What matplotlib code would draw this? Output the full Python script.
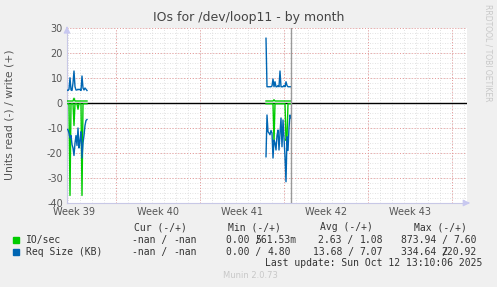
import numpy as np
import matplotlib.pyplot as plt

# time in hours since Mon 2025-09-22 00:00 (start of week 39), 2h resolution
t_a = [70, 72, 74, 76, 78, 80, 82, 84, 86, 88, 90, 92, 94, 96, 98, 100, 102, 104, 106, 108, 110]
t_b = [468, 470, 472, 474, 476, 478, 480, 482, 484, 486, 488, 490, 492,
       494, 496, 498, 500, 502, 504, 506, 508, 510, 512, 514, 516, 518]

# IO/sec (read drawn below zero, write above)
io_read_a = [0.3, 0.3, 0.3, 37, 0.3, 0.3, 0.3, 9, 0.3, 0.3, 0.3, 2.5, 0.3, 0.3, 0.3, 37, 0.3, 0.3, 0.3, 0.3, 0.3]
io_write_a = [0.8, 0.8, 0.8, 0.8, 0.8, 0.8, 0.8, 1.9, 0.8, 0.8, 0.8, 0.8, 0.8, 0.8, 0.8, 0.8, 0.8, 0.8, 0.8, 0.8, 0.8]
io_read_b = [0.3, 0.3, 0.3, 0.3, 0.3, 0.3, 0.3, 0.3, 15.5, 0.3, 0.3, 0.3, 0.3,
             0.3, 0.3, 0.3, 0.3, 0.3, 0.3, 0.3, 15, 14, 0.3, 0.3, 0.3, 0.3]
io_write_b = [0.8, 0.8, 0.8, 0.8, 0.8, 0.8, 0.8, 0.8, 1.3, 0.8, 0.8, 0.8, 0.8,
              0.8, 0.8, 0.8, 0.8, 0.8, 0.8, 0.8, 0.8, 0.8, 0.8, 0.8, 0.8, 0.8]

# Req Size (KB)
rs_read_a = [10.5, 10.7, 12, 14, 13, 16.6, 18, 21, 16, 13, 17, 10, 18, 15, 11.5, 22, 16, 13, 9, 7, 6.6]
rs_write_a = [5.2, 5.0, 5.5, 10.1, 5.2, 5.0, 8, 12.8, 6.5, 5.2, 5.2, 5.5, 5.3, 5.5, 5.0, 10.8, 6, 5.2, 6.0, 5.5, 5.0]
rs_read_b = [21.5, 4.8, 11.5, 12, 12.7, 11, 12, 22, 14.8, 16, 18.8, 13, 10.8,
             18.8, 12, 6, 17.5, 6.8, 14, 21.5, 31.5, 13.5, 19, 10, 4.8, 6]
rs_write_b = [25.9, 6.5, 6.5, 6.5, 6.5, 6.5, 6.8, 9.6, 6.5, 8.5, 6.5, 6.5, 7,
              6.5, 12.8, 6.5, 6.5, 6.5, 7, 6.5, 8.5, 7, 6.5, 6.5, 6.5, 6.5]

now_h = 518
week_labels = ["Week 39", "Week 40", "Week 41", "Week 42", "Week 43"]
y_ticks = [30, 20, 10, 0, -10, -20, -30, -40]

legend_names = ["IO/sec", "Req Size (KB)"]
legend_cur = [("-nan", "-nan"), ("-nan", "-nan")]
legend_min = [("0.00", "561.53m"), ("0.00", "4.80")]
legend_avg = [("2.63", "1.08"), ("13.68", "7.07")]
legend_max = [("873.94", "7.60"), ("334.64", "220.92")]

green = "#00CC00"
blue = "#0066B3"

W, H = 497, 287
fig = plt.figure(figsize=(W / 100, H / 100), dpi=100, facecolor="#F0F0F0")
ax = fig.add_axes([67 / W, (H - 203) / H, 400 / W, 175 / H])
ax.set_facecolor("white")
ax.set_xlim(70, 870)
ax.set_ylim(-40, 30)

# grid
for d in range(72, 870, 24):
    ax.axvline(d, color="#D8D8D8", lw=0.6, ls=(0, (1, 2)), zorder=0)
for y in range(-40, 31, 2):
    ax.axhline(y, color="#D8D8D8", lw=0.6, ls=(0, (1, 2)), zorder=0)
for w in range(168, 870, 168):
    ax.axvline(w, color="#E89898", lw=0.7, ls=(0, (1, 2)), zorder=0.5)
for y in y_ticks:
    ax.axhline(y, color="#E89898", lw=0.7, ls=(0, (1, 2)), zorder=0.5)
ax.axhline(0, color="black", lw=1.0, zorder=2)

for t, r, w in [(t_a, io_read_a, io_write_a), (t_b, io_read_b, io_write_b)]:
    ax.plot(t, -np.array(r), color=green, lw=1.0, zorder=3)
    ax.plot(t, w, color=green, lw=1.0, zorder=3)
for t, r, w in [(t_a, rs_read_a, rs_write_a), (t_b, rs_read_b, rs_write_b)]:
    ax.plot(t, -np.array(r), color=blue, lw=1.0, zorder=4)
    ax.plot(t, w, color=blue, lw=1.0, zorder=4)

ax.axvline(now_h, color="#999999", lw=1.0, zorder=5)

for s in ["top", "right"]:
    ax.spines[s].set_visible(False)
for s in ["left", "bottom"]:
    ax.spines[s].set_color("#C8C8E6")
    ax.spines[s].set_linewidth(0.8)
ax.annotate("", xy=(70, 31.8), xytext=(70, 29), annotation_clip=False,
            arrowprops=dict(arrowstyle="-|>,head_length=0.4,head_width=0.2", color="#C8C8F0", lw=0.8))
ax.annotate("", xy=(876, -40), xytext=(866, -40), annotation_clip=False,
            arrowprops=dict(arrowstyle="-|>,head_length=0.4,head_width=0.2", color="#C8C8F0", lw=0.8))

ax.set_yticks(y_ticks)
ax.set_yticklabels([str(v) for v in y_ticks])
ax.set_xticks([84 + 168 * i for i in range(len(week_labels))])
ax.set_xticklabels(week_labels)
ax.tick_params(length=0, labelsize=7, colors="#555555", pad=3)

fig.text(248.5 / W, 1 - 18 / H, "IOs for /dev/loop11 - by month", ha="center", va="center",
         fontsize=9, color="#444444")
fig.text(10 / W, 1 - 115 / H, "Units read (-) / write (+)", rotation=90, ha="center", va="center",
         fontsize=7.8, color="#555555")
fig.text(488 / W, 1 - 53 / H, "RRDTOOL / TOBI OETIKER", rotation=270, ha="center", va="center",
         fontsize=5.5, color="#C8C8C8")

# legend block
cw = 5.86
mono = dict(family="DejaVu Sans Mono", fontsize=7, color="#333333", va="center")
def px(x, y):
    return x / W, 1 - y / H

cols = [("Cur (-/+)", 197, legend_cur), ("Min (-/+)", 291, legend_min),
        ("Avg (-/+)", 383, legend_avg), ("Max (-/+)", 477, legend_max)]
for head, xr, vals in cols:
    fig.text(*px(xr - 2 * cw + 2, 227), head, ha="right", **mono)
    for i, (lo, hi) in enumerate(vals):
        y = 240 + 12 * i
        fig.text(*px(xr - 5 * cw, y), lo + " /", ha="right", **mono)
        # unit suffix (e.g. "m") hangs past the column edge
        suffix = len(hi) - len(hi.rstrip("mkMG")) if hi[0].isdigit() else 0
        fig.text(*px(xr + suffix * cw, y), hi, ha="right", **mono)

for i, (name, c) in enumerate(zip(legend_names, [green, blue])):
    y = 240 + 12 * i
    fig.patches.append(plt.Rectangle(px(13, y + 3), 6 / W, 6 / H, color=c, transform=fig.transFigure, figure=fig))
    fig.text(*px(26, y), name, ha="left", **mono)

fig.text(*px(482, 263), "Last update: Sun Oct 12 13:10:06 2025", ha="right", **mono)
fig.text(*px(223, 276), "Munin 2.0.73", ha="left", va="center", fontsize=6, color="#C8C8C8")

fig.savefig("out.png", dpi=100, facecolor=fig.get_facecolor())
